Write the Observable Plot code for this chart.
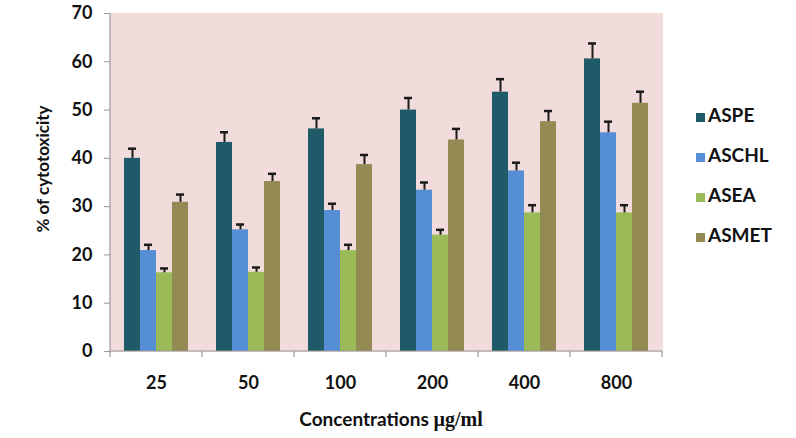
<!DOCTYPE html>
<html>
<head>
<meta charset="utf-8">
<script src="https://cdn.jsdelivr.net/npm/d3@7"></script>
<script src="https://cdn.jsdelivr.net/npm/@observablehq/plot@0.6"></script>
<style>
  body { margin: 0; background: #fff; }
  #wrap { position: relative; width: 796px; height: 438px; font-family: Lato, "Open Sans", sans-serif; color: #111; }
  #chart svg { display: block; }
  .ylab { position: absolute; left: 42px; top: 169px; transform: translate(-50%, -50%) rotate(-90deg); font-weight: bold; font-size: 17px; white-space: nowrap; }
  .xlab { position: absolute; left: 391px; top: 419px; transform: translate(-50%, -50%); font-weight: bold; font-size: 19px; white-space: nowrap; }
  .xlab .u { font-family: "Liberation Serif", serif; font-size: 20px; }
  .legend { position: absolute; left: 696px; top: 103px; }
  .legend .item { display: flex; align-items: baseline; height: 24px; margin-bottom: 16px; font-weight: bold; font-size: 19px; }
  .legend .sw { display: inline-block; width: 9px; height: 9px; margin-right: 3px; }
</style>
</head>
<body>
<div id="wrap">
  <div id="chart"></div>
  <div class="ylab">% of cytotoxicity</div>
  <div class="xlab">Concentrations <span class="u">µg/ml</span></div>
  <div class="legend" id="legend"></div>
</div>
<script>
const categories = ["25", "50", "100", "200", "400", "800"];
const series = ["ASPE", "ASCHL", "ASEA", "ASMET"];
const colors = ["#1F5A68", "#558ED5", "#9BBB59", "#948A54"];
const yTicks = [0, 10, 20, 30, 40, 50, 60, 70];

const aspe = [40.0, 43.3, 46.1, 50.0, 53.7, 60.6];
const aspeErr = [2.0, 2.1, 2.2, 2.5, 2.7, 3.2];
const aschl = [20.9, 25.2, 29.2, 33.4, 37.4, 45.3];
const aschlErr = [1.2, 1.1, 1.4, 1.6, 1.7, 2.3];
const asea = [16.3, 16.4, 20.9, 24.1, 28.7, 28.7];
const aseaErr = [0.9, 1.0, 1.2, 1.1, 1.6, 1.6];
const asmet = [30.9, 35.2, 38.7, 43.8, 47.6, 51.4];
const asmetErr = [1.6, 1.6, 2.0, 2.3, 2.2, 2.4];

const values = [aspe, aschl, asea, asmet];
const errors = [aspeErr, aschlErr, aseaErr, asmetErr];

const data = [];
categories.forEach((c, i) => {
  series.forEach((s, j) => {
    data.push({cat: c, series: s, value: values[j][i], err: errors[j][i]});
  });
});

const chart = Plot.plot({
  width: 796,
  height: 438,
  marginLeft: 110,
  marginRight: 134,
  marginTop: 13,
  marginBottom: 87,
  style: {fontFamily: "Lato, 'Open Sans', sans-serif", fontSize: "18px", fontWeight: "bold", color: "#111", background: "transparent"},
  fx: {domain: categories, padding: 0, label: null},
  x: {domain: series, paddingInner: 0, paddingOuter: 0.75, axis: null},
  y: {domain: [0, 70], label: null},
  color: {domain: series, range: colors},
  marks: [
    Plot.frame({fill: "#F2DCDB", stroke: "#F2DCDB", strokeWidth: 1}),
    Plot.barY(data, {fx: "cat", x: "series", y: "value", fill: "series"}),
    Plot.ruleX(data, {fx: "cat", x: "series", y1: "value", y2: d => d.value + d.err, stroke: "#1a1a1a", strokeWidth: 2}),
    Plot.tickY(data, {fx: "cat", x: "series", y: d => d.value + d.err, stroke: "#1a1a1a", strokeWidth: 2.5, insetLeft: 4, insetRight: 4}),
    Plot.axisY({ticks: yTicks, tickSize: 6, tickPadding: 12, stroke: "#999", label: null, fontSize: 18, fontWeight: "bold"}),
    Plot.axisFx({anchor: "bottom", tickSize: 0, tickPadding: 25, label: null, fontSize: 18, fontWeight: "bold"})
  ]
});
document.getElementById("chart").appendChild(chart);

// axis lines and boundary ticks drawn from the plot's own scales
const fx = chart.scale("fx");
const ys = chart.scale("y");
const svg = d3.select(chart);
const y0 = ys.apply(0), yTop = ys.apply(70);
const xStart = fx.apply(categories[0]);
const xEnd = fx.apply(categories[categories.length - 1]) + fx.bandwidth;
const g = svg.append("g").attr("stroke", "#999").attr("stroke-width", 1.2);
g.append("line").attr("x1", xStart).attr("x2", xStart).attr("y1", yTop).attr("y2", y0);
g.append("line").attr("x1", xStart).attr("x2", xEnd).attr("y1", y0).attr("y2", y0);
const bounds = categories.map(c => fx.apply(c)).concat([xEnd]);
bounds.forEach(x => {
  g.append("line").attr("x1", x).attr("x2", x).attr("y1", y0).attr("y2", y0 + 6);
});

// legend
const legend = document.getElementById("legend");
series.forEach((s, i) => {
  const item = document.createElement("div");
  item.className = "item";
  const sw = document.createElement("span");
  sw.className = "sw";
  sw.style.background = colors[i];
  item.appendChild(sw);
  item.appendChild(document.createTextNode(s));
  legend.appendChild(item);
});
</script>
</body>
</html>
